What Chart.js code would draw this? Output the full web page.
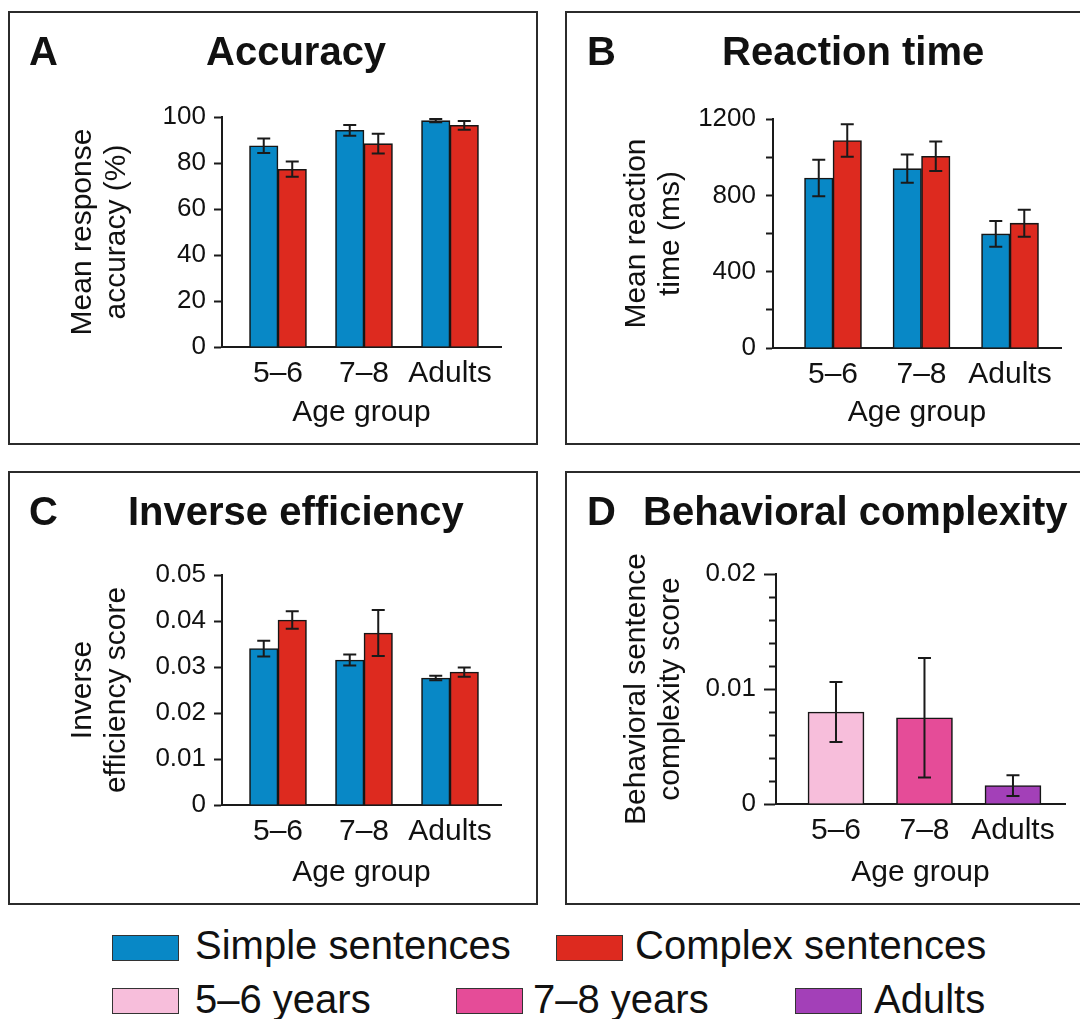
<!DOCTYPE html>
<html>
<head>
<meta charset="utf-8">
<script src="https://cdn.jsdelivr.net/npm/chart.js@4.4.0/dist/chart.umd.min.js"></script>
<style>
  html, body { margin: 0; padding: 0; background: #fff; }
  body { width: 1080px; height: 1019px; position: relative; overflow: hidden;
         font-family: "Liberation Sans", Arial, sans-serif; color: #111; }
  .box { position: absolute; border: 2px solid #2b2b2b; box-sizing: border-box; background: #fff; }
  canvas { position: absolute; }
  .head { position: absolute; font-weight: bold; font-size: 40px; line-height: 40px; white-space: nowrap; }
  .leg { position: absolute; font-size: 40px; line-height: 40px; white-space: nowrap; }
  .sw { position: absolute; width: 67px; height: 26px; box-sizing: border-box; border: 1.5px solid #333; }
</style>
</head>
<body>
<div class="box" style="left:8px;top:11px;width:530px;height:434px"></div>
<div class="box" style="left:565px;top:11px;width:530px;height:434px"></div>
<div class="box" style="left:8px;top:471px;width:530px;height:434px"></div>
<div class="box" style="left:565px;top:471px;width:530px;height:434px"></div>
<canvas id="chartA"></canvas>
<canvas id="chartB"></canvas>
<canvas id="chartC"></canvas>
<canvas id="chartD"></canvas>
<div id="heads"></div>
<div id="legend"></div>
<script>
// categories
const ageGroups = ['5–6', '7–8', 'Adults'];
const seriesNames = ['Simple sentences', 'Complex sentences'];
const groupNames = ['5–6 years', '7–8 years', 'Adults'];

// A: accuracy (%)
const accSimple = [87.5, 94.2, 98.4];
const accSimpleErr = [3.1, 2.3, 0.7];
const accComplex = [77.3, 88.4, 96.4];
const accComplexErr = [3.3, 4.3, 1.9];

// B: reaction time (ms)
const rtSimple = [891, 940, 598];
const rtSimpleErr = [96, 74, 68];
const rtComplex = [1087, 1005, 654];
const rtComplexErr = [85, 77, 71];

// C: inverse efficiency
const ieSimple = [0.0340, 0.0315, 0.0276];
const ieSimpleErr = [0.0017, 0.0012, 0.0005];
const ieComplex = [0.0402, 0.0374, 0.0289];
const ieComplexErr = [0.0019, 0.0050, 0.0010];

// D: behavioral complexity
const bcScore = [0.0080, 0.0075, 0.0016];
const bcScoreErr = [0.0026, 0.0052, 0.0009];

const blue = '#0888c6', red = '#dd2a1f';
const groupColors = ['#f7bedb', '#e54c98', '#a340b8'];

Chart.defaults.font.family = "'Liberation Sans', Arial, sans-serif";
Chart.defaults.color = '#111';

// error bars drawn from the y scale of each chart
const errorBars = {
  id: 'errorBars',
  afterDatasetsDraw(chart) {
    const ctx = chart.ctx;
    const ys = chart.scales.y;
    ctx.save();
    ctx.strokeStyle = '#1a1a1a';
    ctx.lineWidth = 2;
    chart.data.datasets.forEach((ds, di) => {
      chart.getDatasetMeta(di).data.forEach((bar, i) => {
        const v = ds.data[i].y, e = ds.errors[i];
        const t = ys.getPixelForValue(v + e), b = ys.getPixelForValue(v - e);
        const x = bar.x, cap = 6.5;
        ctx.beginPath();
        ctx.moveTo(x, t); ctx.lineTo(x, b);
        ctx.moveTo(x - cap, t); ctx.lineTo(x + cap, t);
        ctx.moveTo(x - cap, b); ctx.lineTo(x + cap, b);
        ctx.stroke();
      });
    });
    ctx.restore();
  }
};

const pts = arr => arr.map((v, i) => ({ x: i, y: v }));

function makePanel(id, geo, yOpts, datasets) {
  const cv = document.getElementById(id);
  cv.width = geo.w; cv.height = geo.h;
  cv.style.left = geo.left + 'px'; cv.style.top = geo.top + 'px';
  const lh = 33.6;
  const padLeft = geo.titleX - geo.left - lh / 2;
  return new Chart(cv, {
    type: 'bar',
    data: { datasets },
    options: {
      responsive: false,
      animation: false,
      events: [],
      layout: { padding: { left: padLeft, top: geo.y0 - geo.top, right: geo.left + geo.w - geo.x1, bottom: 0 } },
      plugins: { legend: { display: false }, tooltip: { enabled: false } },
      datasets: { bar: { barThickness: geo.bar, borderWidth: 1.6, borderColor: '#161616', borderSkipped: 'start' } },
      scales: {
        x: {
          type: 'linear', min: geo.xmin, max: geo.xmax, offset: false,
          grid: { display: false, drawTicks: false, offset: false },
          border: { display: true, color: '#1a1a1a', width: 2 },
          afterBuildTicks: s => { s.ticks = ageGroups.map((_, i) => ({ value: i })); },
          afterFit: s => { s.height = geo.top + geo.h - geo.y1; },
          ticks: { autoSkip: false, maxRotation: 0, padding: 9, font: { size: 30 },
                   callback: v => ageGroups[v] },
          title: { display: true, text: 'Age group', font: { size: 30 }, padding: { top: 0, bottom: 14 } }
        },
        y: {
          min: yOpts.min, max: yOpts.max,
          grid: { display: true, drawOnChartArea: false, drawTicks: true, tickLength: yOpts.tick,
                  tickColor: '#1a1a1a', tickWidth: 2, tickBorderDash: yOpts.dash || (() => []) },
          border: { display: true, color: '#1a1a1a', width: 2 },
          afterFit: s => { s.width = geo.x0 - geo.left - padLeft; },
          ticks: { autoSkip: false, stepSize: yOpts.step, padding: yOpts.pad, font: { size: 26 },
                   callback: yOpts.label },
          title: { display: true, text: yOpts.title, font: { size: 30, lineHeight: 1.12 }, padding: 0 }
        }
      }
    },
    plugins: [errorBars]
  });
}

const isMajor = (v, unit) => Math.abs(v / unit - Math.round(v / unit)) < 1e-6;

makePanel('chartA',
  { left: 8, top: 11, w: 530, h: 434, x0: 222, x1: 501, y0: 117, y1: 347, titleX: 83, xmin: -0.651, xmax: 2.593, bar: 28.5 },
  { min: 0, max: 100, step: 20, tick: 8, pad: 8, title: ['Mean response', 'accuracy (%)'], label: v => String(v) },
  [
    { label: seriesNames[0], data: pts(accSimple), errors: accSimpleErr, backgroundColor: blue },
    { label: seriesNames[1], data: pts(accComplex), errors: accComplexErr, backgroundColor: red }
  ]);

makePanel('chartB',
  { left: 565, top: 11, w: 515, h: 434, x0: 773, x1: 1061, y0: 119, y1: 348, titleX: 637, xmin: -0.678, xmax: 2.576, bar: 28.5 },
  { min: 0, max: 1200, step: 200, tick: 7, pad: 10, title: ['Mean reaction', 'time (ms)'],
    label: v => (v % 400 === 0 ? String(v) : '') },
  [
    { label: seriesNames[0], data: pts(rtSimple), errors: rtSimpleErr, backgroundColor: blue },
    { label: seriesNames[1], data: pts(rtComplex), errors: rtComplexErr, backgroundColor: red }
  ]);

makePanel('chartC',
  { left: 8, top: 471, w: 530, h: 434, x0: 222, x1: 501, y0: 575, y1: 805, titleX: 83, xmin: -0.651, xmax: 2.593, bar: 28.5 },
  { min: 0, max: 0.05, step: 0.01, tick: 8, pad: 8, title: ['Inverse', 'efficiency score'],
    label: v => (v === 0 ? '0' : v.toFixed(2)) },
  [
    { label: seriesNames[0], data: pts(ieSimple), errors: ieSimpleErr, backgroundColor: blue },
    { label: seriesNames[1], data: pts(ieComplex), errors: ieComplexErr, backgroundColor: red }
  ]);

makePanel('chartD',
  { left: 565, top: 471, w: 515, h: 434, x0: 776, x1: 1065, y0: 574, y1: 804, titleX: 637, xmin: -0.678, xmax: 2.588, bar: 56 },
  { min: 0, max: 0.02, step: 0.002, tick: 12, pad: 8, title: ['Behavioral sentence', 'complexity score'],
    label: v => (isMajor(v, 0.01) ? (v === 0 ? '0' : v.toFixed(2)) : ''),
    dash: ctx => (ctx.tick && !isMajor(ctx.tick.value, 0.01) ? [0, 5, 20] : []) },
  [
    { label: 'score', data: pts(bcScore), errors: bcScoreErr, backgroundColor: groupColors }
  ]);

// panel letters and titles
const heads = [
  ['A', 29, 31], ['Accuracy', 206, 31],
  ['B', 587, 31], ['Reaction time', 722, 31],
  ['C', 29, 491], ['Inverse efficiency', 128, 491],
  ['D', 587, 491], ['Behavioral complexity', 643, 491]
];
const headBox = document.getElementById('heads');
heads.forEach(([t, x, y]) => {
  const d = document.createElement('div');
  d.className = 'head'; d.textContent = t;
  d.style.left = x + 'px'; d.style.top = y + 'px';
  headBox.appendChild(d);
});

// legend
const legendItems = [
  { text: seriesNames[0], color: blue, sx: 112, tx: 195, row: 0 },
  { text: seriesNames[1], color: red, sx: 556, tx: 635, row: 0 },
  { text: groupNames[0], color: groupColors[0], sx: 112, tx: 195, row: 1 },
  { text: groupNames[1], color: groupColors[1], sx: 456, tx: 533, row: 1 },
  { text: groupNames[2], color: groupColors[2], sx: 795, tx: 874, row: 1 }
];
const legBox = document.getElementById('legend');
legendItems.forEach(it => {
  const s = document.createElement('div');
  s.className = 'sw';
  s.style.left = it.sx + 'px'; s.style.top = (935 + it.row * 53) + 'px';
  s.style.background = it.color;
  legBox.appendChild(s);
  const t = document.createElement('div');
  t.className = 'leg'; t.textContent = it.text;
  t.style.left = it.tx + 'px'; t.style.top = (925 + it.row * 54) + 'px';
  legBox.appendChild(t);
});
</script>
</body>
</html>
